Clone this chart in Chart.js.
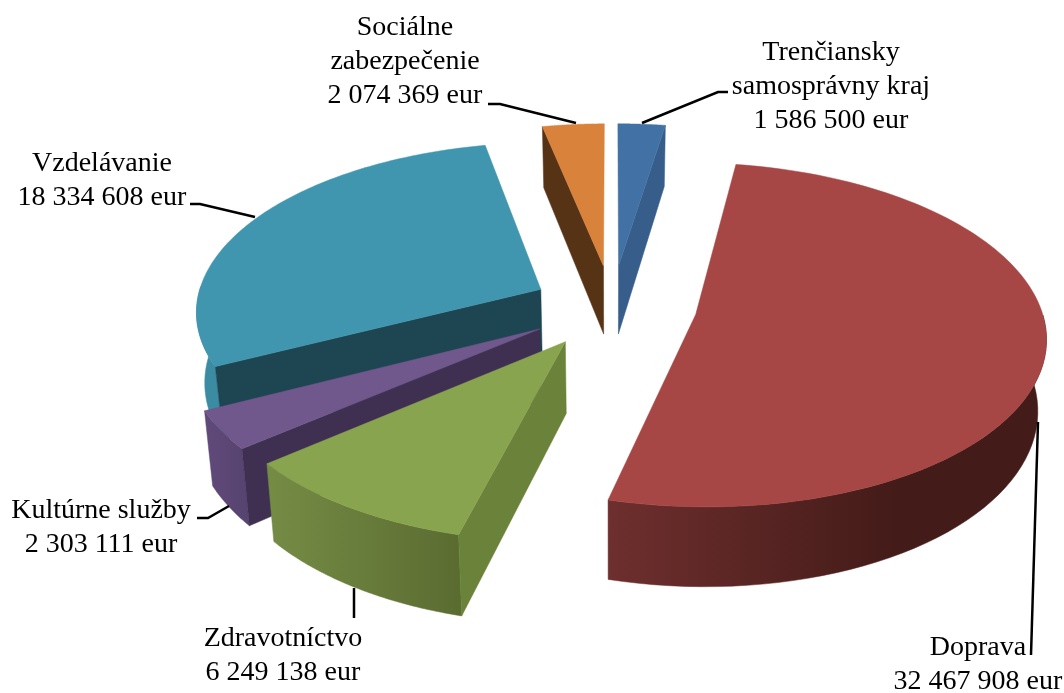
<!DOCTYPE html>
<html>
<head>
<meta charset="utf-8">
<style>
  html, body { margin: 0; padding: 0; background: #fff; }
  canvas { display: block; }
</style>
<script src="https://cdn.jsdelivr.net/npm/chart.js@4"></script>
</head>
<body>
<canvas id="myChart" width="1064" height="693"></canvas>
<script>
const categories = ["Trenčiansky samosprávny kraj", "Doprava", "Zdravotníctvo", "Kultúrne služby", "Vzdelávanie", "Sociálne zabezpečenie"];
const values = [1586500, 32467908, 6249138, 2303111, 18334608, 2074369];
const valueLabels = ["1 586 500 eur", "32 467 908 eur", "6 249 138 eur", "2 303 111 eur", "18 334 608 eur", "2 074 369 eur"];

const topColors = ['#4272a5', '#a64645', '#88a44f', '#70578c', '#4096ae', '#d9823b'];
const edgeColors = ['#375d8a', '#421b18', '#6a8239', '#3f3052', '#1e4552', '#573316'];
const wallColors = [
  ['#375d8a', '#375d8a'],
  ['#6e2f2e', '#431b18'],
  ['#758c45', '#5b6c31'],
  ['#604a7b', '#584470'],
  ['#3b8ca3', '#3b8ca3'],
  ['#573316', '#573316']
];
// slices are pulled out by about the same amount
const explode = [85, 85, 85, 85, 80, 85];

// label layout: centre x, first baseline, lines, leader
const labelLayout = [
  { x: 831, y: 60, lines: ["Trenčiansky", "samosprávny kraj"], leader: [[642, 123], [718, 92], [728, 92]] },
  { x: 978, y: 655, lines: ["Doprava"], leader: [[1038, 422], [1031, 655]] },
  { x: 283, y: 646, lines: ["Zdravotníctvo"], leader: [[354, 588], [354, 618]] },
  { x: 101, y: 518, lines: ["Kultúrne služby"], leader: [[197, 518], [208, 518], [229, 506]] },
  { x: 102, y: 171, lines: ["Vzdelávanie"], leader: [[190, 204], [200, 204], [255, 217]] },
  { x: 405, y: 35, lines: ["Sociálne", "zabezpečenie"], leader: [[488, 104], [500, 104], [576, 123]] }
];

const persp = 0.00034;   // perspective of the pie plane
const tilt = 0.486;      // vertical squash
const depth = 70;        // height of the slab
const lowerShrink = 0.02; // bottom of the slab is a bit further from the camera

function project(arc, u, v, drop) {
  const w = 1 - persp * v;
  const shrink = drop ? 1 - lowerShrink : 1;
  return [arc.x + u * shrink / w, arc.y + (tilt * v + (drop || 0)) / w];
}

function rimPoint(arc, a, r, drop) {
  const mid = (arc.startAngle + arc.endAngle) / 2;
  const off = arc.options.offset;
  return project(arc, Math.cos(mid) * off + Math.cos(a) * r, Math.sin(mid) * off + Math.sin(a) * r, drop);
}

function fillPoly(ctx, pts, fill) {
  ctx.beginPath();
  pts.forEach((p, i) => i ? ctx.lineTo(p[0], p[1]) : ctx.moveTo(p[0], p[1]));
  ctx.closePath();
  ctx.fillStyle = fill;
  ctx.strokeStyle = fill;
  ctx.lineWidth = 0.5;
  ctx.fill();
  ctx.stroke();
}

function drawWalls(ctx, arc, i) {
  const s = arc.startAngle, e = arc.endAngle, r = arc.outerRadius;
  const steps = 80;

  // outer rim, only the part turned to the viewer
  const front = [];
  for (let n = 0; n <= steps; n++) {
    const a = s + (e - s) * n / steps;
    if (Math.sin(a) > -0.02) front.push(a);
  }
  if (front.length > 1) {
    const upper = front.map(a => rimPoint(arc, a, r, 0));
    const lower = front.map(a => rimPoint(arc, a, r, depth)).reverse();
    const xs = upper.map(p => p[0]);
    const x0 = Math.min(...xs);
    const x1 = i === 1 ? x0 + 290 : Math.max(...xs); // Doprava is darkest before its right end
    const grad = ctx.createLinearGradient(x0, 0, x1, 0);
    grad.addColorStop(0, wallColors[i][0]);
    grad.addColorStop(1, wallColors[i][1]);
    fillPoly(ctx, upper.concat(lower), grad);
  }

  // straight cut faces
  const apex = rimPoint(arc, s, 0, 0), apexLow = rimPoint(arc, s, 0, depth);
  if (-Math.cos(s) > 0.001) {
    fillPoly(ctx, [apex, rimPoint(arc, s, r, 0), rimPoint(arc, s, r, depth), apexLow], edgeColors[i]);
  }
  if (Math.cos(e) > 0.001) {
    fillPoly(ctx, [apex, rimPoint(arc, e, r, 0), rimPoint(arc, e, r, depth), apexLow], edgeColors[i]);
  }
}

function drawTop(ctx, arc) {
  const s = arc.startAngle, e = arc.endAngle, r = arc.outerRadius;
  const pts = [rimPoint(arc, s, 0, 0)];
  for (let n = 0; n <= 120; n++) {
    pts.push(rimPoint(arc, s + (e - s) * n / 120, r, 0));
  }
  fillPoly(ctx, pts, arc.options.backgroundColor);
}

const tiltedPie = {
  id: 'tiltedPie',
  beforeDatasetsDraw(chart) {
    const ctx = chart.ctx;
    const arcs = chart.getDatasetMeta(0).data;
    const order = arcs.map((arc, i) => i).sort((a, b) => {
      const sa = Math.sin((arcs[a].startAngle + arcs[a].endAngle) / 2);
      const sb = Math.sin((arcs[b].startAngle + arcs[b].endAngle) / 2);
      return sa - sb;
    });
    ctx.save();
    order.forEach(i => drawWalls(ctx, arcs[i], i));
    order.forEach(i => drawTop(ctx, arcs[i]));
    ctx.restore();
    return false;
  },
  afterDraw(chart) {
    const ctx = chart.ctx;
    ctx.save();
    ctx.font = '28px "Liberation Serif"';
    ctx.textAlign = 'center';
    ctx.textBaseline = 'alphabetic';
    ctx.fillStyle = '#000';
    ctx.strokeStyle = '#000';
    ctx.lineWidth = 2.5;
    labelLayout.forEach((l, i) => {
      l.lines.concat(valueLabels[i]).forEach((t, n) => ctx.fillText(t, l.x, l.y + n * 34));
      ctx.beginPath();
      l.leader.forEach((p, n) => n ? ctx.lineTo(p[0], p[1]) : ctx.moveTo(p[0], p[1]));
      ctx.stroke();
    });
    ctx.restore();
  }
};

const myChart = new Chart(document.getElementById('myChart'), {
  type: 'pie',
  data: {
    labels: categories,
    datasets: [{
      data: values,
      backgroundColor: topColors,
      borderWidth: 0,
      offset: explode
    }]
  },
  options: {
    responsive: false,
    animation: false,
    radius: 345,
    layout: { padding: { left: 160, bottom: 81 } },
    plugins: { legend: { display: false }, tooltip: { enabled: false } }
  },
  plugins: [tiltedPie]
});
</script>
</body>
</html>
